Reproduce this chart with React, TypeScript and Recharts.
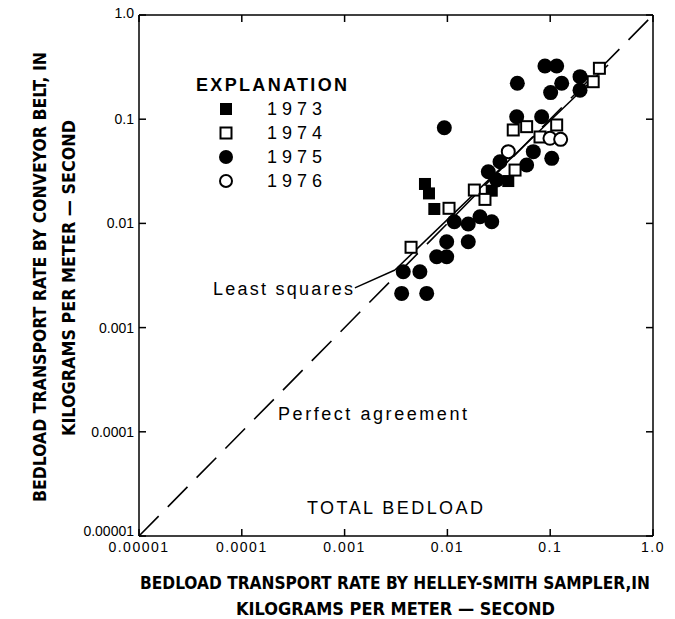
import React from 'react';
import { ScatterChart, Scatter, XAxis, YAxis, ReferenceLine } from 'recharts';

const TICKS = [0.00001, 0.0001, 0.001, 0.01, 0.1, 1];
const TICK_LABELS = ['0.00001', '0.0001', '0.001', '0.01', '0.1', '1.0'];

// Helley-Smith (x) vs conveyor belt (y), kg per meter-second
const y1973 = [
  { x: 0.00605, y: 0.0239 },
  { x: 0.00662, y: 0.0194 },
  { x: 0.00746, y: 0.01375 },
  { x: 0.027, y: 0.0206 },
  { x: 0.0391, y: 0.0255 },
];

const y1974 = [
  { x: 0.00443, y: 0.0059 },
  { x: 0.01037, y: 0.01396 },
  { x: 0.01828, y: 0.0209 },
  { x: 0.0232, y: 0.017 },
  { x: 0.0455, y: 0.0325 },
  { x: 0.0437, y: 0.0788 },
  { x: 0.059, y: 0.0848 },
  { x: 0.0796, y: 0.0675 },
  { x: 0.1156, y: 0.088 },
  { x: 0.262, y: 0.229 },
  { x: 0.301, y: 0.308 },
];

const y1975 = [
  { x: 0.0889, y: 0.324 },
  { x: 0.1156, y: 0.324 },
  { x: 0.0479, y: 0.221 },
  { x: 0.1294, y: 0.221 },
  { x: 0.195, y: 0.256 },
  { x: 0.101, y: 0.18 },
  { x: 0.195, y: 0.19 },
  { x: 0.00933, y: 0.0829 },
  { x: 0.0472, y: 0.1057 },
  { x: 0.0826, y: 0.1057 },
  { x: 0.1035, y: 0.0421 },
  { x: 0.0685, y: 0.0488 },
  { x: 0.059, y: 0.0363 },
  { x: 0.0325, y: 0.0391 },
  { x: 0.025, y: 0.0313 },
  { x: 0.0302, y: 0.0261 },
  { x: 0.01167, y: 0.01038 },
  { x: 0.01596, y: 0.00987 },
  { x: 0.02075, y: 0.0116 },
  { x: 0.027, y: 0.01038 },
  { x: 0.00984, y: 0.00667 },
  { x: 0.01596, y: 0.00667 },
  { x: 0.00787, y: 0.00479 },
  { x: 0.00984, y: 0.00479 },
  { x: 0.00372, y: 0.00344 },
  { x: 0.0054, y: 0.00344 },
  { x: 0.00359, y: 0.00213 },
  { x: 0.00629, y: 0.00213 },
];

const y1976 = [
  { x: 0.0391, y: 0.0488 },
  { x: 0.0995, y: 0.0656 },
  { x: 0.1264, y: 0.0641 },
];

const PERFECT = [{ x: 0.00001, y: 0.00001 }, { x: 1, y: 1 }];
const LEAST_SQUARES = [{ x: 0.00309, y: 0.00357 }, { x: 0.365, y: 0.331 }];
const LEADER = [{ x: 0.00126, y: 0.0024 }, { x: 0.00309, y: 0.00357 }];

const LEGEND = ['1973', '1974', '1975', '1976'];

const SANS = '"Liberation Sans", Arial, sans-serif';
const NARROW = '"Liberation Sans Narrow", "DejaVu Sans Condensed", sans-serif';

const fmt = (v: number) => {
  const i = TICKS.findIndex((t) => Math.abs(Math.log10(t) - Math.log10(v)) < 1e-6);
  return i >= 0 ? TICK_LABELS[i] : '';
};

// left tick labels; the lowest one sits a little above its tick, as in the original
const LeftTick = (p: any) => {
  const v = p.payload.value;
  const lift = v <= 0.00001 ? -5 : v >= 1 ? -2 : 0;
  return (
    <text
      x={p.x}
      y={p.y + lift}
      textAnchor="end"
      dominantBaseline="central"
      fontFamily={SANS}
      fontSize={14}
      fill="#000"
    >
      {fmt(v)}
    </text>
  );
};

const FilledSquare = (p: any) => (
  <rect x={p.cx - 6} y={p.cy - 6} width={12} height={12} fill="#000" />
);
const OpenSquare = (p: any) => (
  <rect x={p.cx - 5.5} y={p.cy - 5.5} width={11} height={11} fill="#fff" stroke="#000" strokeWidth={2} />
);
const FilledCircle = (p: any) => <circle cx={p.cx} cy={p.cy} r={7.5} fill="#000" />;
const OpenCircle = (p: any) => (
  <circle cx={p.cx} cy={p.cy} r={6.5} fill="#fff" stroke="#000" strokeWidth={2} />
);

const axisLine = { stroke: '#000', strokeWidth: 1.5 };
const tickLine = { stroke: '#000', strokeWidth: 1.5 };

function LegendBox() {
  const marks = [
    <rect key="a" x={220} y={103} width={12} height={12} fill="#000" />,
    <rect key="b" x={220.5} y={127.5} width={11} height={11} fill="#fff" stroke="#000" strokeWidth={2} />,
    <circle key="c" cx={226} cy={157} r={7} fill="#000" />,
    <circle key="d" cx={226} cy={181} r={6} fill="#fff" stroke="#000" strokeWidth={2} />,
  ];
  return (
    <g>
      <text x={196} y={91} fontFamily={SANS} fontWeight="bold" fontSize={18} textLength={151}>
        EXPLANATION
      </text>
      {marks}
      {LEGEND.map((t, i) => (
        <text key={t} x={267} y={115 + i * 24} fontFamily={SANS} fontSize={18} letterSpacing={5}>
          {t}
        </text>
      ))}
    </g>
  );
}

export default function App() {
  return (
    <div style={{ position: 'absolute', left: 0, top: 0, background: '#fff' }}>
      <ScatterChart width={675} height={619} margin={{ top: 13, right: 20, bottom: 43, left: 39 }}>
        <XAxis
          type="number"
          dataKey="x"
          scale="log"
          domain={[0.00001, 1]}
          ticks={TICKS}
          tickFormatter={fmt}
          allowDataOverflow
          height={40}
          tickSize={-7}
          tickMargin={13}
          axisLine={axisLine}
          tickLine={tickLine}
          tick={{ fill: '#000', fontSize: 14, fontFamily: SANS, letterSpacing: 1.5 }}
        />
        <XAxis
          xAxisId="top"
          orientation="top"
          type="number"
          dataKey="x"
          scale="log"
          domain={[0.00001, 1]}
          ticks={TICKS}
          tickFormatter={() => ''}
          allowDataOverflow
          height={2}
          tickSize={-7}
          axisLine={axisLine}
          tickLine={tickLine}
        />
        <YAxis
          type="number"
          dataKey="y"
          scale="log"
          domain={[0.00001, 1]}
          ticks={TICKS}
          allowDataOverflow
          width={100}
          tickSize={-7}
          tickMargin={12}
          axisLine={axisLine}
          tickLine={tickLine}
          tick={LeftTick}
        />
        <YAxis
          yAxisId="right"
          orientation="right"
          type="number"
          dataKey="y"
          scale="log"
          domain={[0.00001, 1]}
          ticks={TICKS}
          tickFormatter={() => ''}
          allowDataOverflow
          width={2}
          tickSize={-7}
          axisLine={axisLine}
          tickLine={tickLine}
        />

        <Scatter data={y1975} shape={FilledCircle} isAnimationActive={false} />
        <Scatter data={y1973} shape={FilledSquare} isAnimationActive={false} />
        <Scatter data={y1974} shape={OpenSquare} isAnimationActive={false} />
        <Scatter data={y1976} shape={OpenCircle} isAnimationActive={false} />

        <ReferenceLine segment={PERFECT} stroke="#000" strokeWidth={1.6} strokeDasharray="28 13" />
        <ReferenceLine segment={LEAST_SQUARES} stroke="#000" strokeWidth={1.6} />
        <ReferenceLine segment={LEADER} stroke="#000" strokeWidth={1.4} />

        <LegendBox />

        <text x={213} y={295} fontFamily={SANS} fontSize={18} textLength={140}>
          Least squares
        </text>
        <text x={278} y={420} fontFamily={SANS} fontSize={18} textLength={189}>
          Perfect agreement
        </text>
        <text x={307} y={514} fontFamily={SANS} fontSize={18} textLength={176}>
          TOTAL BEDLOAD
        </text>

        <text x={140} y={589} fontFamily={NARROW} fontWeight="bold" fontSize={17} textLength={510} lengthAdjust="spacingAndGlyphs">
          BEDLOAD TRANSPORT RATE BY HELLEY-SMITH SAMPLER,IN
        </text>
        <text x={236} y={615} fontFamily={NARROW} fontWeight="bold" fontSize={17} textLength={319} lengthAdjust="spacingAndGlyphs">
          KILOGRAMS PER METER — SECOND
        </text>
        <text
          transform="translate(46,502) rotate(-90)"
          fontFamily={NARROW}
          fontWeight="bold"
          fontSize={17}
          textLength={450}
          lengthAdjust="spacingAndGlyphs"
        >
          BEDLOAD TRANSPORT RATE BY CONVEYOR BELT, IN
        </text>
        <text
          transform="translate(75,436) rotate(-90)"
          fontFamily={NARROW}
          fontWeight="bold"
          fontSize={17}
          textLength={316}
          lengthAdjust="spacingAndGlyphs"
        >
          KILOGRAMS PER METER — SECOND
        </text>
      </ScatterChart>
    </div>
  );
}
